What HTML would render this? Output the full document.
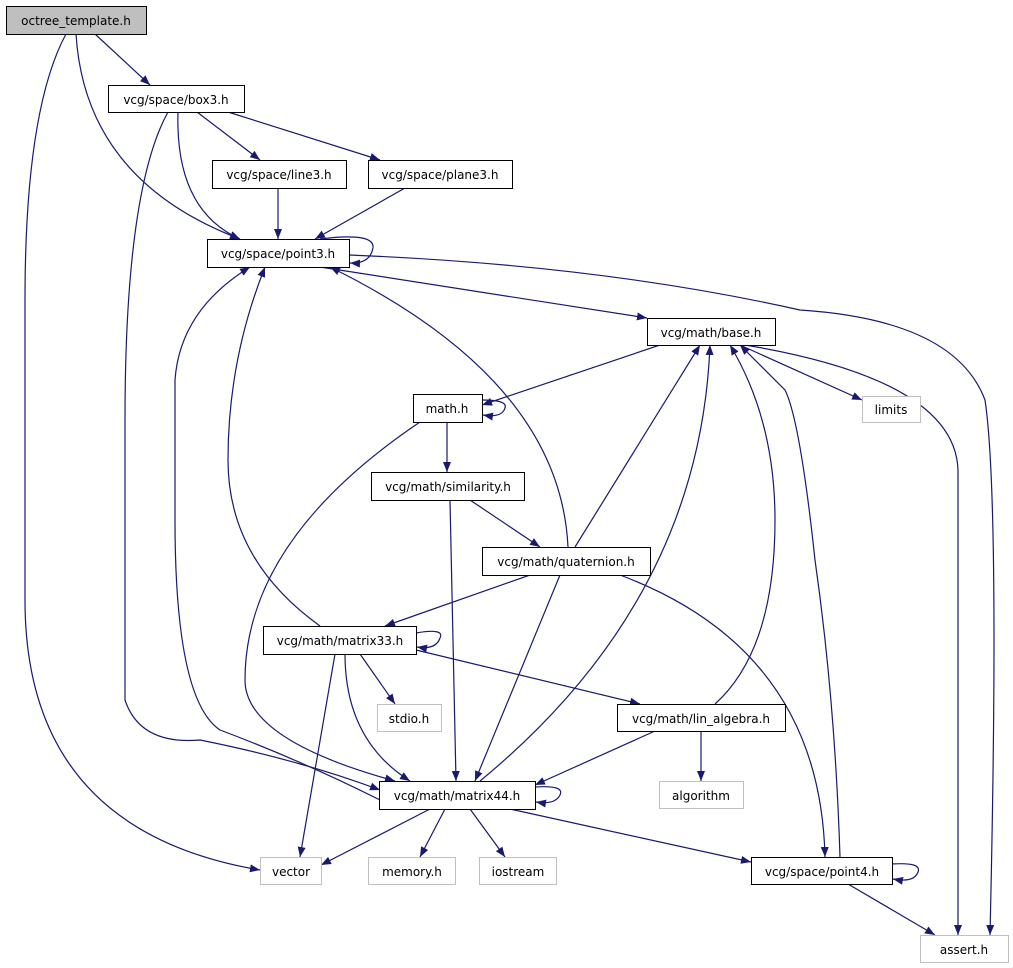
<!DOCTYPE html>
<html><head><meta charset="utf-8"><style>
html,body{margin:0;padding:0;background:#fff;}
svg{display:block;}
text{font-family:"DejaVu Sans","Liberation Sans",sans-serif;font-size:12px;fill:#000;}
</style></head><body>
<svg width="1013" height="968" viewBox="0 0 1013 968" xmlns="http://www.w3.org/2000/svg">
<defs><marker id="a" viewBox="0 0 10 10" refX="10" refY="5" markerWidth="10" markerHeight="10" markerUnits="userSpaceOnUse" orient="auto"><path d="M0,1 L10,5 L0,9 z" fill="#191970"/></marker></defs>
<g fill="none" stroke="#191970" stroke-width="1.2" marker-end="url(#a)">
<path d="M95,34 L150,85"/>
<path d="M76,34 Q85,180 240,239"/>
<path d="M66,34 Q25,110 25,300 L25,600 Q25,830 260,870"/>
<path d="M197,112 L260,160"/>
<path d="M228,112 L380,160"/>
<path d="M178,112 Q175,210 240,239"/>
<path d="M168,112 Q125,190 125,420 L125,700 Q140,745 200,740 Q300,760 380,790"/>
<path d="M278,188 L278,239"/>
<path d="M405,188 L315,239"/>
<path d="M320,239 Q375,232 373,248 Q370,264 350,263"/>
<path d="M320,267 L647,318"/>
<path d="M349,255 Q600,265 800,310 Q955,320 985,400 Q1000,500 990,935"/>
<path d="M660,345 L482,405"/>
<path d="M740,345 L862,400"/>
<path d="M745,345 Q955,380 958,470 L958,935"/>
<path d="M482,400 Q508,400 505,408 Q502,418 483,415"/>
<path d="M447,422 L447,472"/>
<path d="M420,422 Q245,540 245,680 Q245,740 395,781"/>
<path d="M470,500 L540,547"/>
<path d="M450,500 L456,781"/>
<path d="M568,547 Q560,380 330,267"/>
<path d="M575,547 L700,345"/>
<path d="M530,575 L385,626"/>
<path d="M560,575 L475,781"/>
<path d="M620,575 Q820,650 825,857"/>
<path d="M416,633 Q445,628 440,638 Q436,650 417,647"/>
<path d="M320,626 Q228,560 228,460 Q228,360 265,267"/>
<path d="M360,654 L395,704"/>
<path d="M416,650 L640,704"/>
<path d="M345,654 Q345,740 410,781"/>
<path d="M335,654 L300,857"/>
<path d="M715,704 Q775,650 775,520 Q775,420 730,345"/>
<path d="M701,731 L701,781"/>
<path d="M655,731 L535,785"/>
<path d="M535,787 Q565,785 560,795 Q555,805 536,802"/>
<path d="M380,800 Q300,760 220,730 Q175,700 175,520 L175,380 Q180,310 250,267"/>
<path d="M480,781 Q700,600 710,345"/>
<path d="M430,809 L321,865"/>
<path d="M445,809 L420,857"/>
<path d="M470,809 L505,857"/>
<path d="M510,809 L751,862"/>
<path d="M892,864 Q922,862 918,872 Q914,883 893,879"/>
<path d="M840,857 Q835,700 815,560 Q800,420 785,390 L740,345"/>
<path d="M848,884 L935,935"/>
</g>
<g stroke-width="1">
<rect x="6.5" y="6.5" width="140" height="28" fill="#bfbfbf" stroke="#000"/>
<rect x="108.5" y="85.5" width="136" height="27" fill="#fff" stroke="#000"/>
<rect x="212.5" y="160.5" width="134" height="28" fill="#fff" stroke="#000"/>
<rect x="368.5" y="160.5" width="144" height="28" fill="#fff" stroke="#000"/>
<rect x="207.5" y="239.5" width="142" height="28" fill="#fff" stroke="#000"/>
<rect x="647.5" y="318.5" width="128" height="27" fill="#fff" stroke="#000"/>
<rect x="862.5" y="396.5" width="58" height="26" fill="#fff" stroke="#bfbfbf"/>
<rect x="413.5" y="394.5" width="69" height="28" fill="#fff" stroke="#000"/>
<rect x="371.5" y="472.5" width="153" height="28" fill="#fff" stroke="#000"/>
<rect x="482.5" y="547.5" width="168" height="28" fill="#fff" stroke="#000"/>
<rect x="263.5" y="626.5" width="153" height="28" fill="#fff" stroke="#000"/>
<rect x="377.5" y="704.5" width="64" height="27" fill="#fff" stroke="#bfbfbf"/>
<rect x="617.5" y="704.5" width="168" height="27" fill="#fff" stroke="#000"/>
<rect x="659.5" y="781.5" width="84" height="27" fill="#fff" stroke="#bfbfbf"/>
<rect x="379.5" y="781.5" width="156" height="28" fill="#fff" stroke="#000"/>
<rect x="260.5" y="857.5" width="61" height="27" fill="#fff" stroke="#bfbfbf"/>
<rect x="368.5" y="857.5" width="87" height="27" fill="#fff" stroke="#bfbfbf"/>
<rect x="479.5" y="857.5" width="77" height="27" fill="#fff" stroke="#bfbfbf"/>
<rect x="751.5" y="857.5" width="141" height="27" fill="#fff" stroke="#000"/>
<rect x="920.5" y="935.5" width="88" height="27" fill="#fff" stroke="#bfbfbf"/>
</g>
<g text-anchor="middle">
<text x="76" y="25">octree_template.h</text>
<text x="176" y="104">vcg/space/box3.h</text>
<text x="279" y="179">vcg/space/line3.h</text>
<text x="440" y="179">vcg/space/plane3.h</text>
<text x="278" y="258">vcg/space/point3.h</text>
<text x="711" y="337">vcg/math/base.h</text>
<text x="891" y="414">limits</text>
<text x="447" y="413">math.h</text>
<text x="448" y="491">vcg/math/similarity.h</text>
<text x="566" y="566">vcg/math/quaternion.h</text>
<text x="340" y="645">vcg/math/matrix33.h</text>
<text x="409" y="723">stdio.h</text>
<text x="701" y="723">vcg/math/lin_algebra.h</text>
<text x="701" y="800">algorithm</text>
<text x="457" y="800">vcg/math/matrix44.h</text>
<text x="291" y="876">vector</text>
<text x="412" y="876">memory.h</text>
<text x="518" y="876">iostream</text>
<text x="822" y="876">vcg/space/point4.h</text>
<text x="964" y="954">assert.h</text>
</g>
</svg>
</body></html>
